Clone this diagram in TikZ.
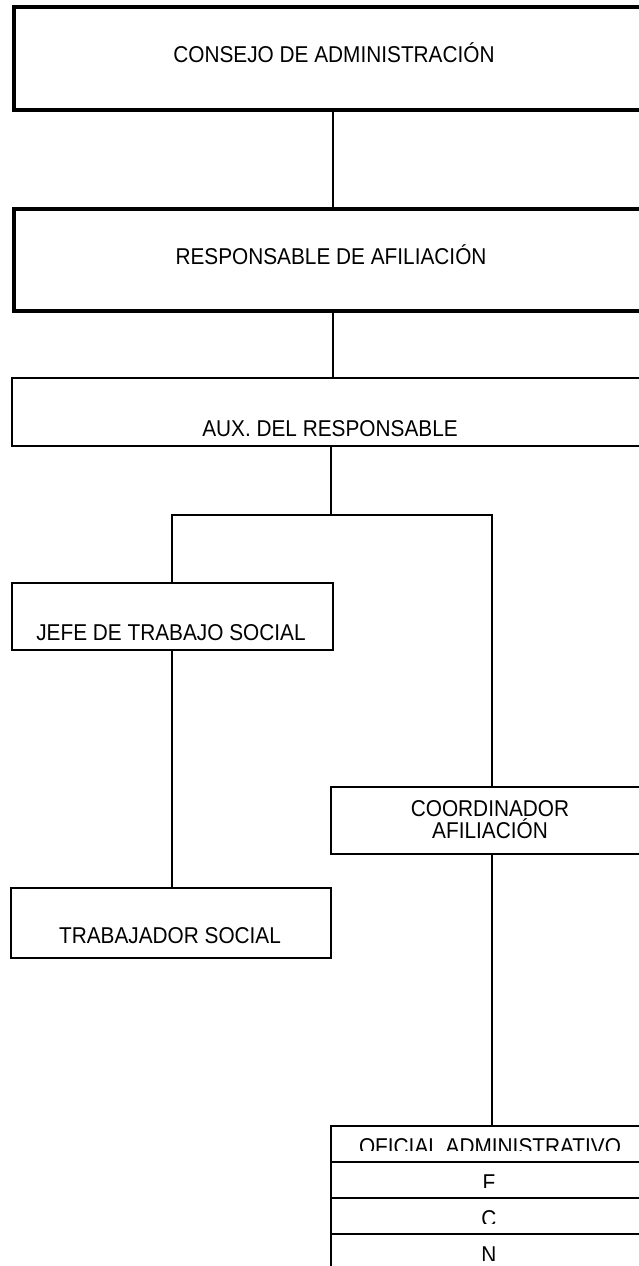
\documentclass[tikz,border=0pt]{standalone}
\usepackage{fontspec}
\setmainfont{Liberation Sans}
\begin{document}
\begin{tikzpicture}[x=1pt,y=-1pt,
  thickbox/.style={draw, line width=4pt, rectangle, inner sep=0pt, anchor=north west},
  thinbox/.style={draw, line width=1.8pt, rectangle, inner sep=0pt, anchor=north west},
  lbl/.style={font=\fontsize{20.8}{24}\selectfont, inner sep=0pt, anchor=base},
  conn/.style={line width=2pt}]
\useasboundingbox (0,0) rectangle (639,1266);
\clip (0,0) rectangle (639,1266);
% boxes
\node[thickbox, minimum width=638pt, minimum height=103pt] (b1) at (12,5) {};
\node[thickbox, minimum width=638pt, minimum height=102pt] (b2) at (12,207) {};
\node[thinbox, minimum width=640pt, minimum height=68pt] (b3) at (11,377) {};
\node[thinbox, minimum width=321pt, minimum height=67pt] (jefe) at (11,582) {};
\node[thinbox, minimum width=320pt, minimum height=70pt] (trab) at (10,887) {};
\node[thinbox, minimum width=322pt, minimum height=67pt] (coord) at (330,786) {};
\node[thinbox, minimum width=322pt, minimum height=36pt] (r1) at (330,1125) {};
\node[thinbox, minimum width=322pt, minimum height=36pt] (r2) at (330,1161) {};
\node[thinbox, minimum width=322pt, minimum height=36pt] (r3) at (330,1197) {};
\node[thinbox, minimum width=322pt, minimum height=40pt] (r4) at (330,1233) {};
% labels
\node[lbl] (t1) at (334,62) {\scalebox{1}[1.1]{CONSEJO DE ADMINISTRACIÓN}};
\node[lbl] (t2) at (331,264) {\scalebox{1}[1.1]{RESPONSABLE DE AFILIACIÓN}};
\node[lbl] (t3) at (330,436) {\scalebox{1}[1.1]{AUX. DEL RESPONSABLE}};
\node[lbl] (t4) at (171,640) {\scalebox{1}[1.1]{JEFE DE TRABAJO SOCIAL}};
\node[lbl] (t5) at (170,943) {\scalebox{1}[1.1]{TRABAJADOR SOCIAL}};
\node[lbl] (t6) at (490,816) {\scalebox{1}[1.1]{COORDINADOR}};
\node[lbl] (t7) at (490,838) {\scalebox{1}[1.1]{AFILIACIÓN}};
\begin{scope}
\clip (332,1127) rectangle (639,1150);
\node[lbl] (t8) at (490,1154) {\scalebox{1}[1.1]{OFICIAL ADMINISTRATIVO}};
\end{scope}
\begin{scope}
\clip (332,1163) rectangle (639,1187);
\node[lbl] (t9) at (489,1190) {\scalebox{1}[1.1]{F}};
\end{scope}
\begin{scope}
\clip (332,1199) rectangle (639,1223);
\node[lbl] (t10) at (489,1226) {\scalebox{1}[1.1]{C}};
\end{scope}
\begin{scope}
\clip (332,1235) rectangle (639,1260);
\node[lbl] (t11) at (489,1262) {\scalebox{1}[1.1]{N}};
\end{scope}
% connectors
\coordinate (split) at (331,515);
\draw[conn] (b1.south) -- (b2.north);
\draw[conn] (b2.south) -- (b3.north -| b2.south);
\draw[conn] (b3.south -| split) -- (split);
\draw[conn] (jefe.north) -- (jefe.north |- split) -- (coord.north |- split) -- (coord.north);
\draw[conn] (jefe.south) -- (trab.north -| jefe.south);
\draw[conn] (coord.south) -- (r1.north);
\end{tikzpicture}
\end{document}
